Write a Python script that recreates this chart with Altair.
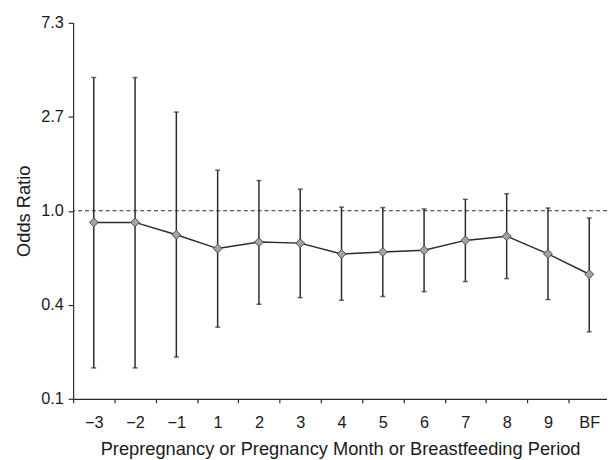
import math
import json
import altair as alt
import pandas as pd

# ---- data ----
periods = ["\u22123", "\u22122", "\u22121", "1", "2", "3", "4", "5", "6", "7", "8", "9", "BF"]
odds_ratio = [0.884, 0.884, 0.775, 0.669, 0.717, 0.709, 0.632, 0.645, 0.657, 0.730, 0.763, 0.632, 0.509]
ci_lower = [0.188, 0.188, 0.211, 0.290, 0.370, 0.397, 0.386, 0.402, 0.423, 0.471, 0.486, 0.389, 0.276]
ci_upper = [4.13, 4.13, 2.86, 1.54, 1.38, 1.26, 1.04, 1.035, 1.02, 1.13, 1.20, 1.03, 0.926]
y_tick_labels = ["0.1", "0.4", "1.0", "2.7", "7.3"]
y_tick_exponents = [-2, -1, 0, 1, 2]
reference_value = [1.0]

df = pd.DataFrame({
    "idx": list(range(len(periods))),
    "period": periods,
    "or": odds_ratio,
    "lo": ci_lower,
    "hi": ci_upper,
})
ref_df = pd.DataFrame({"ref": reference_value})

W = 541
H = 381
x_min, x_max = -0.5, 12.43
unit = W / (x_max - x_min)

font = "Liberation Sans"
dark = "#2a2a2a"

y_values = [math.exp(e) for e in y_tick_exponents]
label_expr = " : ".join(
    f"datum.value < {math.exp(e) * 1.3:.4f} ? '{lab}'" for e, lab in zip(y_tick_exponents[:-1], y_tick_labels[:-1])
) + f" : '{y_tick_labels[-1]}'"

x_enc = alt.X(
    "idx:Q",
    scale=alt.Scale(domain=[x_min, x_max], nice=False, zero=False),
    axis=alt.Axis(
        values=list(range(len(periods))),
        labelExpr=f"{json.dumps(periods)}[datum.value]",
        tickOffset=-unit / 2,
        labelOffset=unit / 2,
        title="Prepregnancy or Pregnancy Month or Breastfeeding Period",
        tickSize=4,
        labelPadding=12,
        titlePadding=9,
        grid=False,
    ),
)
y_scale = alt.Scale(type="log", base=math.e, domain=[math.exp(-2), math.exp(2)], nice=False)
y_axis = alt.Axis(
    values=y_values,
    labelExpr=label_expr,
    title="Odds Ratio",
    tickSize=5,
    labelPadding=5,
    titlePadding=7,
    grid=False,
)

base = alt.Chart(df)

ref_line = alt.Chart(ref_df).mark_rule(color=dark, strokeWidth=1.1, strokeDash=[4, 3]).encode(
    y=alt.Y("ref:Q", scale=y_scale, axis=y_axis)
)
bars = base.mark_rule(color=dark, strokeWidth=1.5).encode(
    x=x_enc, y=alt.Y("lo:Q", scale=y_scale), y2="hi:Q"
)
cap_lo = base.mark_tick(color=dark, thickness=1.5, size=5, orient="horizontal").encode(
    x="idx:Q", y=alt.Y("lo:Q", scale=y_scale)
)
cap_hi = base.mark_tick(color=dark, thickness=1.5, size=5, orient="horizontal").encode(
    x="idx:Q", y=alt.Y("hi:Q", scale=y_scale)
)
line = base.mark_line(color=dark, strokeWidth=1.5).encode(
    x="idx:Q", y=alt.Y("or:Q", scale=y_scale)
)
pts = base.mark_point(shape="diamond", filled=True, size=80, fill="#a3a3a3", stroke="#4a4a4a", strokeWidth=1, opacity=1).encode(
    x="idx:Q", y=alt.Y("or:Q", scale=y_scale)
)

chart = alt.layer(ref_line, bars, cap_lo, cap_hi, line, pts).properties(
    width=W,
    height=H,
    autosize=alt.AutoSizeParams(type="none"),
    padding={"left": 66, "top": 12, "right": 0, "bottom": 452 - 12 - H},
).configure_view(stroke=None).configure_axis(
    domainColor=dark,
    domainWidth=1.2,
    tickColor=dark,
    tickWidth=1.2,
    labelFont=font,
    labelFontSize=16.5,
    labelColor="#1a1a1a",
    titleFont=font,
    titleFontSize=18.5,
    titleFontWeight="normal",
    titleColor="#1a1a1a",
)

chart.save("out.html", embed_options={"renderer": "svg", "actions": False})
